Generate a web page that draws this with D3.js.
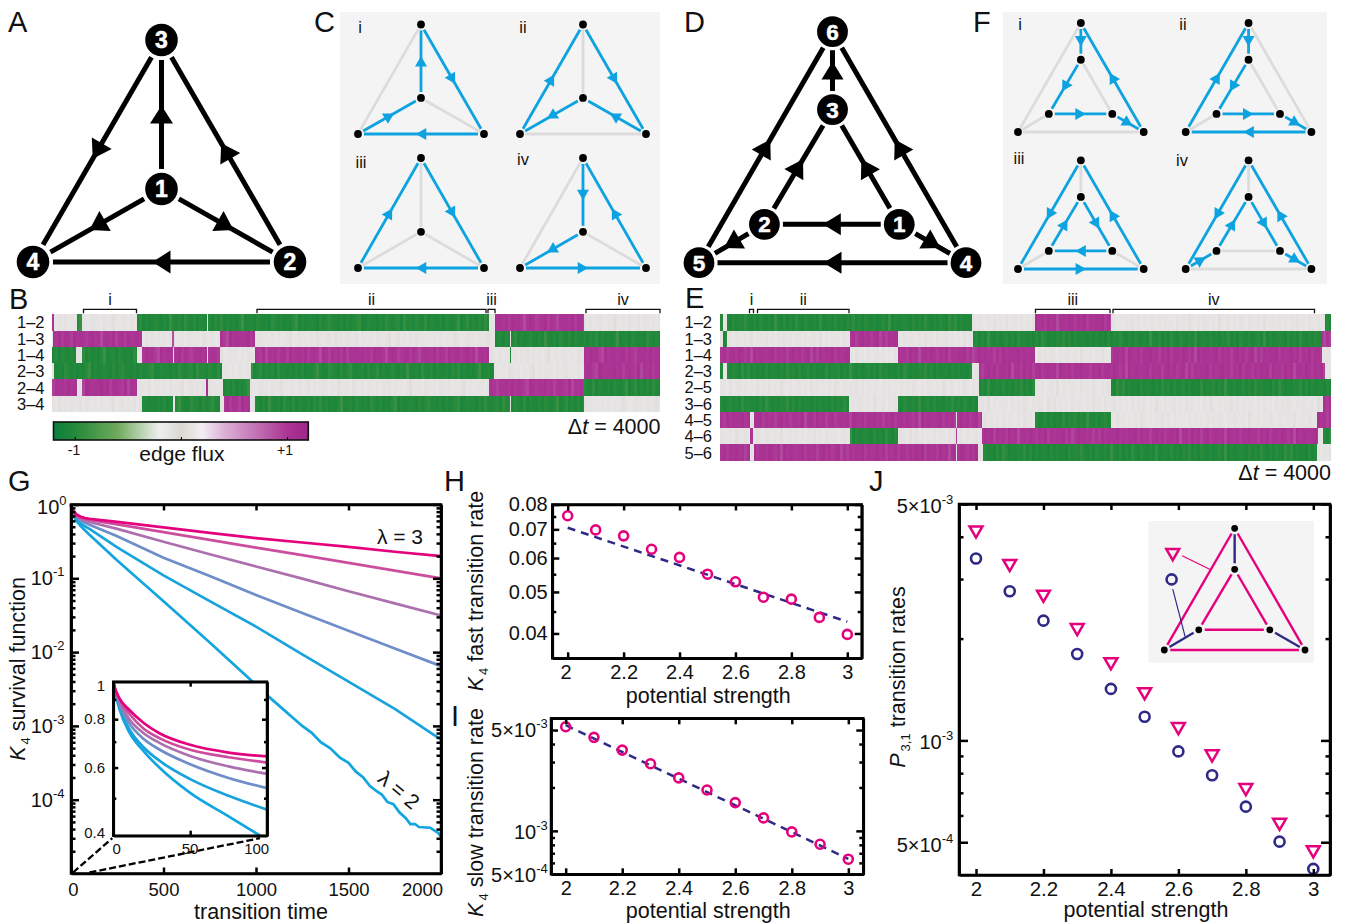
<!DOCTYPE html>
<html>
<head>
<meta charset="utf-8">
<script src="https://cdn.jsdelivr.net/npm/d3@7"></script>
<style>
  html, body { margin: 0; padding: 0; background: #fff; }
  svg { display: block; font-family: "Liberation Sans", Arial, sans-serif; fill: #111; }
</style>
</head>
<body>
<svg width="1346" height="923"></svg>
<script>
const pink = "#e5007d";
const navy = "#2e2a86";
const sky = "#0ea3e0";

// network layouts, in unit triangle coordinates
const k4Layout = { 1: [0.5, 0.671], 2: [1, 1], 3: [0.5, 0], 4: [0, 1] };
const prismLayout = { 1: [0.75, 0.834], 2: [0.245, 0.834], 3: [0.5, 0.337], 4: [1, 1], 5: [0, 1], 6: [0.5, 0] };

const k4Edges = [[1, 3], [3, 4], [2, 3], [1, 2], [1, 4], [2, 4]];
const prismEdges = [[3, 6], [5, 6], [4, 6], [2, 3], [1, 3], [1, 2], [2, 5], [1, 4], [4, 5]];

const cycleLabels = ["i", "ii", "iii", "iv"];
const k4Cycles = [
  { on: [[1, 3], [3, 2], [2, 4], [4, 1]], off: [[3, 4], [1, 2]] },
  { on: [[4, 3], [3, 2], [2, 1], [1, 4]], off: [[1, 3], [2, 4]] },
  { on: [[4, 3], [3, 2], [2, 4]], off: [[1, 3], [1, 2], [1, 4]] },
  { on: [[3, 1], [1, 4], [4, 2], [2, 3]], off: [[3, 4], [1, 2]] }
];
const prismCycles = [
  { on: [[6, 3], [3, 2], [2, 1], [1, 4], [4, 6]], off: [[5, 6], [1, 3], [2, 5], [4, 5]] },
  { on: [[5, 6], [6, 3], [3, 2], [2, 1], [1, 4], [4, 5]], off: [[4, 6], [1, 3], [2, 5]] },
  { on: [[6, 5], [5, 4], [4, 6], [2, 3], [3, 1], [1, 2]], off: [[3, 6], [2, 5], [1, 4]] },
  { on: [[6, 5], [5, 2], [2, 3], [3, 1], [1, 4], [4, 6]], off: [[3, 6], [1, 2], [4, 5]] }
];

// edge flux states: [start window, state], state lasts until the next start
const rowsB = ["1\u20132", "1\u20133", "1\u20134", "2\u20133", "2\u20134", "3\u20134"];
const fluxB = [
  [[0, 1], [1.7, 0], [24.7, -1], [30.3, 0], [85.3, -1], [154.7, 0], [156, -1], [437, 0], [442.5, 1], [532.3, 0]],
  [[0, 0], [1, 1], [89.7, 0], [120, 1], [122, 0], [168, 1], [202.7, 0], [442.5, -1], [457.5, 0], [459, -1]],
  [[0, -1], [24, 0], [30.3, -1], [85.3, 0], [90, 1], [121, 0], [122, 1], [155, 0], [156, 1], [168, 0], [203, 1], [436.5, 0], [457.5, -1], [459, 0], [532.3, 1]],
  [[0, 0], [1.5, -1], [170, 0], [198.5, -1], [442, 0], [532.3, 1]],
  [[0, 1], [24.5, 0], [30.3, 1], [85.3, 0], [154, 1], [155.5, 0], [170.5, -1], [198, 0], [437, 1], [532.3, -1]],
  [[0, 0], [90, -1], [120.5, 0], [122.5, -1], [168, 0], [171.5, 1], [198, 0], [203, -1], [457.5, 0], [459, -1], [532.3, 0]]
];
const bracketsB = [["i", 31.5, 84.5], ["ii", 205, 434], ["iii", 436, 443], ["iv", 534, 608]];

const rowsE = ["1\u20132", "1\u20133", "1\u20134", "2\u20133", "2\u20135", "3\u20136", "4\u20135", "4\u20136", "5\u20136"];
const fluxE = [
  [[0, -1], [2.5, 0], [7, -1], [252, 0], [315, 1], [391, 0], [605, -1]],
  [[0, 0], [3, -1], [6.5, 0], [129.5, 1], [177.5, 0], [253, -1], [602, 1]],
  [[0, 1], [129.5, 0], [177.5, 1], [314.5, 0], [391, 1], [602, 0]],
  [[0, -1], [2.5, 0], [7, -1], [252, 0], [259, 1], [604.5, 0]],
  [[0, 0], [259, -1], [314.5, 0], [391, -1]],
  [[0, -1], [129, 0], [177.5, -1], [258, 0], [602.5, 1]],
  [[0, 1], [29.5, 0], [34, 1], [235.5, 0], [237, 1], [262, 0], [314.5, -1], [390.5, 0], [597, 1]],
  [[0, 0], [30, 1], [33, 0], [129.5, -1], [177.5, 0], [235.5, 1], [237, 0], [262, 1], [598, 0], [602.5, -1]],
  [[0, 1], [29.5, 0], [34, 1], [235.5, 0], [237, 1], [258, 0], [262.5, -1], [597, 0]]
];
const bracketsE = [["i", 29.5, 33.5], ["ii", 37.5, 129], ["iii", 315.5, 390], ["iv", 393, 594.5]];

// streak strength per window, one digit each (0 faint .. 9 strong)
const streakB = "7868597862798467958637876958749687579682786947859678695748687961876957879468697852968767958647786968753986779684786593768578496786957862974868594778";
const streakE = "6879586747968578692785968479578683976858796748695786975829687679586847968579374868795867968476958758697948675968278697586947687958369786748596877968";

const fluxStops = [-1.2, -1, -0.6, -0.3, -0.2, 0, 0.2, 0.4, 1, 1.2];
const fluxColors = ["#0b7f3e", "#24893a", "#6fa95c", "#cfdfcb", "#eef0ee", "#dad7d1", "#f2eef4", "#dcb3d8", "#ab3594", "#a0248a"];

// G: survival function. First 100 time units come from the inset
const shortT = [0, 1, 4, 10, 20, 30, 50, 75, 100];
const shortS = [
  [1, 0.965, 0.906, 0.849, 0.781, 0.736, 0.687, 0.656, 0.641],
  [1, 0.96, 0.9, 0.83, 0.755, 0.715, 0.667, 0.638, 0.618],
  [1, 0.96, 0.89, 0.805, 0.735, 0.695, 0.643, 0.604, 0.578],
  [1, 0.955, 0.875, 0.785, 0.71, 0.668, 0.612, 0.564, 0.531],
  [1, 0.95, 0.86, 0.76, 0.675, 0.625, 0.56, 0.507, 0.467],
  [1, 0.945, 0.85, 0.745, 0.66, 0.6, 0.516, 0.449, 0.39]
];
const longT = [250, 500, 750, 1000, 1250, 1500, 1750, 2000];
const longLog = [
  [-0.235, -0.31, -0.385, -0.455, -0.515, -0.575, -0.64, -0.7],
  [-0.27, -0.375, -0.48, -0.585, -0.685, -0.79, -0.895, -1],
  [-0.33, -0.505, -0.675, -0.84, -1.005, -1.175, -1.34, -1.505],
  [-0.43, -0.72, -0.97, -1.225, -1.47, -1.71, -1.95, -2.19],
  [-0.58, -0.96, -1.31, -1.655, -2.03, -2.4, -2.77, -3.185]
];
const fastT = [250, 500, 750, 960, 1067, 1250, 1300, 1350, 1400, 1454, 1500, 1540, 1580, 1616, 1650, 1680, 1710, 1743, 1775, 1810, 1834, 1860, 1880, 1942, 1965, 1985, 2000];
const fastLog = [-0.76, -1.31, -1.87, -2.35, -2.6, -3, -3.09, -3.22, -3.3, -3.43, -3.5, -3.62, -3.7, -3.815, -3.88, -3.93, -4.03, -4.06, -4.17, -4.25, -4.33, -4.33, -4.37, -4.38, -4.42, -4.45, -4.5];
const curveColors = [pink, "#cc4d9e", "#ad70ae", "#6f8ec9", "#18a3dc", "#12a5e0"];

const strength = [2, 2.1, 2.2, 2.3, 2.4, 2.5, 2.6, 2.7, 2.8, 2.9, 3];
const strengthTicks = [2, 2.2, 2.4, 2.6, 2.8, 3];
const fastRate = [0.0753, 0.0698, 0.0676, 0.0629, 0.0602, 0.055, 0.0528, 0.0486, 0.0481, 0.0436, 0.0398];
const fastFit = [0.0706, 0.0426];
const slowRate = [5.27e-3, 4.45e-3, 3.63e-3, 2.92e-3, 2.33e-3, 1.92e-3, 1.57e-3, 1.23e-3, 0.984e-3, 0.808e-3, 0.636e-3];
const slowFit = [5.4e-3, 0.64e-3];
const circleRate = [3.45e-3, 2.76e-3, 2.26e-3, 1.8e-3, 1.42e-3, 1.175e-3, 0.928e-3, 0.789e-3, 0.637e-3, 0.502e-3, 0.417e-3];
const triangleRate = [4.12e-3, 3.28e-3, 2.66e-3, 2.12e-3, 1.68e-3, 1.37e-3, 1.08e-3, 0.897e-3, 0.713e-3, 0.563e-3, 0.467e-3];

const svg = d3.select("svg");

const letters = [["A", 8, 32], ["B", 9, 309], ["C", 314, 32], ["D", 684, 32], ["E", 685, 308], ["F", 973, 32], ["G", 8, 491], ["H", 444, 491], ["I", 451, 726], ["J", 869, 491]];
svg.selectAll(".letter").data(letters).enter().append("text")
  .attr("class", "letter")
  .attr("x", d => d[1])
  .attr("y", d => d[2])
  .attr("font-size", 29)
  .text(d => d[0]);

function arrowPoints(a, b, len, wid, frac) {
  const dx = b[0] - a[0], dy = b[1] - a[1], n = Math.hypot(dx, dy);
  const ux = dx / n, uy = dy / n;
  const mx = a[0] + dx * frac, my = a[1] + dy * frac;
  return [
    [mx + ux * len / 2, my + uy * len / 2],
    [mx - ux * len / 2 - uy * wid / 2, my - uy * len / 2 + ux * wid / 2],
    [mx - ux * len / 2 + uy * wid / 2, my - uy * len / 2 - ux * wid / 2]
  ].join(" ");
}

// one graph: x and y scales map the unit layout onto the page
function drawGraph(layout, x, y, o) {
  const g = svg.append("g");
  const pos = id => [x(layout[id][0]), y(layout[id][1])];
  const trim = (e, gap) => {
    const a = pos(e[0]), b = pos(e[1]), n = Math.hypot(b[0] - a[0], b[1] - a[1]);
    const ux = (b[0] - a[0]) / n, uy = (b[1] - a[1]) / n;
    return [a[0] + ux * gap, a[1] + uy * gap, b[0] - ux * gap, b[1] - uy * gap];
  };
  const segs = (list, color, width, gap) => {
    g.selectAll(null).data(list).enter().append("line")
      .attr("x1", d => trim(d, gap)[0]).attr("y1", d => trim(d, gap)[1])
      .attr("x2", d => trim(d, gap)[2]).attr("y2", d => trim(d, gap)[3])
      .attr("stroke", color).attr("stroke-width", width);
  };
  if (o.off) segs(o.off, "#dcdcdc", o.width, o.offGap);
  segs(o.on, o.color, o.width, o.gap);
  if (o.navy) segs(o.navy, navy, o.width, o.gap);
  if (o.arrow) {
    g.selectAll(null).data(o.on).enter().append("polygon")
      .attr("points", d => arrowPoints(pos(d[0]), pos(d[1]), o.arrow[0], o.arrow[1], 0.5))
      .attr("fill", o.color);
  }
  const ids = Object.keys(layout);
  g.selectAll(null).data(ids).enter().append("circle")
    .attr("cx", d => pos(d)[0]).attr("cy", d => pos(d)[1])
    .attr("r", o.r).attr("fill", "#000");
  if (o.numbers) {
    g.selectAll(null).data(ids).enter().append("text")
      .attr("x", d => pos(d)[0]).attr("y", d => pos(d)[1])
      .attr("dy", "0.36em")
      .attr("text-anchor", "middle")
      .attr("font-weight", "bold")
      .attr("font-size", o.numbers)
      .style("fill", "#fff")
      .style("stroke", "#fff")
      .style("stroke-width", 0.5)
      .text(d => d);
  }
}

const sc = (a, b) => d3.scaleLinear().domain([0, 1]).range([a, b]);

// A and D
drawGraph(k4Layout, sc(33, 290), sc(40, 262), { on: k4Edges, color: "#000", width: 5, gap: 20, arrow: [18, 23], r: 16.3, numbers: 23 });
drawGraph(prismLayout, sc(699, 966), sc(31.7, 262.7), { on: prismEdges, color: "#000", width: 5, gap: 18.5, arrow: [18, 22], r: 15.4, numbers: 22.5 });

// C and F
function cyclePanel(box, layout, cycles, cells, labels) {
  svg.append("rect").attr("x", box[0]).attr("y", box[1]).attr("width", box[2]).attr("height", box[3]).attr("fill", "#f4f4f4");
  cycles.forEach((c, i) => {
    const m = cells[i];
    drawGraph(layout, sc(m[0], m[1]), sc(m[2], m[3]), { on: c.on, off: c.off, color: sky, width: 2.8, gap: 6, offGap: 5, arrow: [10.5, 12], r: 3.9 });
    svg.append("text").attr("x", labels[i][0]).attr("y", labels[i][1])
      .attr("text-anchor", "middle").attr("font-size", 16.5).text(cycleLabels[i]);
  });
}
cyclePanel([340, 12, 320, 272], k4Layout, k4Cycles,
  [[358, 484, 24.5, 134], [520, 646, 24.5, 134], [358, 484, 158, 268], [520, 646, 158, 268]],
  [[360, 33], [523, 33], [361, 168], [523, 165]]);
cyclePanel([1003, 12, 324, 272], prismLayout, prismCycles,
  [[1018, 1143.7, 23, 132], [1185.7, 1311.4, 23, 132], [1018, 1143.7, 160.3, 269], [1185.7, 1311.4, 160.3, 269]],
  [[1020, 30], [1183, 30], [1019, 164], [1182, 166]]);

// flux heatmaps
const fluxColor = d3.scaleLinear().domain(fluxStops).range(fluxColors);
const streakWidth = 3;

function heatmap(rows, flux, brackets, streak, x0, x1, windows, top, bottom, labelX, labelSize) {
  const x = d3.scaleLinear().domain([0, windows]).range([x0, x1]);
  const y = d3.scaleBand().domain(rows).range([top, bottom]);
  const g = svg.append("g");
  flux.forEach((segs, r) => {
    const cells = [];
    segs.forEach((s, i) => {
      const end = i + 1 < segs.length ? segs[i + 1][0] : windows;
      let a = s[0];
      while (a < end) {
        const col = Math.floor(a / streakWidth);
        const b = Math.min(end, (col + 1) * streakWidth);
        const shade = +streak[(col + r * 23) % streak.length] / 9;
        const v = s[1] === 0 ? 0.045 + 0.075 * shade : s[1] * (0.86 + 0.2 * shade);
        cells.push({ a, b, v });
        a = b;
      }
    });
    g.selectAll(null).data(cells).enter().append("rect")
      .attr("x", d => x(d.a))
      .attr("width", d => x(d.b) - x(d.a))
      .attr("y", y(rows[r]))
      .attr("height", y.bandwidth())
      .attr("shape-rendering", "crispEdges")
      .attr("fill", d => fluxColor(d.v));
    svg.append("text")
      .attr("x", labelX).attr("y", y(rows[r]) + y.bandwidth() / 2)
      .attr("dy", "0.36em").attr("text-anchor", "end")
      .attr("font-size", labelSize).text(rows[r]);
  });
  brackets.forEach(b => {
    svg.append("path")
      .attr("d", `M${x(b[1])},${top - 1}V${top - 5}H${x(b[2])}V${top - 1}`)
      .attr("fill", "none").attr("stroke", "#111").attr("stroke-width", 1.3);
    svg.append("text")
      .attr("x", (x(b[1]) + x(b[2])) / 2).attr("y", top - 9)
      .attr("text-anchor", "middle").attr("font-size", 16).text(b[0]);
  });
}
heatmap(rowsB, fluxB, bracketsB, streakB, 52, 660, 608, 314.3, 412, 44.5, 16.5);
heatmap(rowsE, fluxE, bracketsE, streakE, 720, 1331, 611, 314.3, 460.7, 712, 16.5);

function deltaT(xEnd, y) {
  const t = svg.append("text").attr("x", xEnd).attr("y", y).attr("text-anchor", "end").attr("font-size", 21.5);
  t.append("tspan").text("\u0394");
  t.append("tspan").attr("font-style", "italic").text("t");
  t.append("tspan").text(" = 4000");
}
deltaT(660.5, 434);
deltaT(1331, 480);

// colour bar
const barX = d3.scaleLinear().domain([-1.2, 1.2]).range([53.5, 308.3]);
const grad = svg.append("defs").append("linearGradient").attr("id", "fluxBar");
grad.selectAll("stop").data(fluxStops).enter().append("stop")
  .attr("offset", d => (d + 1.2) / 2.4)
  .attr("stop-color", d => fluxColor(d));
svg.append("rect").attr("x", 53.5).attr("y", 422).attr("width", 254.8).attr("height", 18)
  .attr("fill", "url(#fluxBar)").attr("stroke", "#111").attr("stroke-width", 1.6);
svg.append("g").attr("transform", "translate(0,440)")
  .call(d3.axisBottom(barX).tickValues([-1, 0, 1]).tickSize(-3).tickFormat("").tickSizeOuter(0))
  .call(g => g.select(".domain").remove());
svg.selectAll(".barLabel").data([[-1, "-1", 74], [1, "+1", 285]]).enter().append("text")
  .attr("class", "barLabel")
  .attr("x", d => d[2]).attr("y", 455)
  .attr("text-anchor", "middle").attr("font-size", 14)
  .text(d => d[1]);
svg.append("text").attr("x", barX(0) + 1).attr("y", 461).attr("text-anchor", "middle").attr("font-size", 21).text("edge flux");

// frames with ticks pointing inside on all four sides
function frame(x, y, o) {
  const [xa, xb] = x.range();
  const [yb, ya] = y.range();
  const g = svg.append("g");
  const style = sel => sel.attr("font-family", null).attr("font-size", o.fontSize).attr("stroke-width", o.sw || 2.5)
    .call(s => s.selectAll(".tick text").attr("stroke", "none").style("fill", "#111"))
    .call(s => s.selectAll(".tick line, .domain").attr("stroke", "#000"));
  const len = o.len, minor = o.minorLen;
  g.append("g").attr("transform", `translate(0,${yb})`)
    .call(d3.axisBottom(x).tickValues(o.xTicks).tickSize(-(o.xLen || len)).tickSizeOuter(0).tickPadding(o.xPad).tickFormat(o.xFormat)).call(style);
  g.append("g").attr("transform", `translate(0,${ya})`)
    .call(d3.axisTop(x).tickValues(o.xTicks).tickSize(-(o.xLen || len)).tickSizeOuter(0).tickFormat("")).call(style);
  g.append("g").attr("transform", `translate(${xa},0)`)
    .call(d3.axisLeft(y).tickValues(o.yTicks).tickSize(-len).tickSizeOuter(0).tickPadding(o.yPad || 5).tickFormat(o.yFormat || "")).call(style);
  g.append("g").attr("transform", `translate(${xb},0)`)
    .call(d3.axisRight(y).tickValues(o.yTicks).tickSize(-len).tickSizeOuter(0).tickFormat("")).call(style);
  g.append("g").attr("transform", `translate(${xa},0)`)
    .call(d3.axisLeft(y).tickValues(o.yMinor).tickSize(-minor).tickSizeOuter(0).tickFormat("")).call(style);
  g.append("g").attr("transform", `translate(${xb},0)`)
    .call(d3.axisRight(y).tickValues(o.yMinor).tickSize(-minor).tickSizeOuter(0).tickFormat("")).call(style);
  g.append("rect").attr("x", xa).attr("y", ya).attr("width", xb - xa).attr("height", yb - ya)
    .attr("fill", "none").attr("stroke", "#000").attr("stroke-width", o.sw || 2.5);
  return g;
}

function powerLabel(xEnd, y, base, sup, size) {
  const t = svg.append("text").attr("x", xEnd).attr("y", y).attr("text-anchor", "end").attr("font-size", size);
  t.append("tspan").text(base);
  t.append("tspan").attr("dy", -9).attr("font-size", 13).text(sup);
}

function yTitle(cx, cy, main, sub, rest) {
  const t = svg.append("text").attr("transform", `translate(${cx},${cy}) rotate(-90)`)
    .attr("text-anchor", "middle").attr("font-size", 21.5);
  t.append("tspan").attr("font-style", "italic").text(main);
  t.append("tspan").attr("font-size", 13).attr("dy", 5).attr("dx", 2).text(sub);
  t.append("tspan").attr("dy", -5).attr("dx", 6).text(rest);
}

function xTitle(cx, y, txt) {
  svg.append("text").attr("x", cx).attr("y", y).attr("text-anchor", "middle").attr("font-size", 21.5).text(txt);
}

const decadeMinor = (lo, hi) => d3.range(lo, hi).flatMap(e => d3.range(2, 10).map(k => k * Math.pow(10, e)));

// G
const gx = d3.scaleLinear().domain([0, 2000]).range([71, 441]);
const gy = d3.scaleLog().domain([1e-5, 1]).range([873.5, 504.5]);
const line = (x, y) => d3.line().x(d => x(d[0])).y(d => y(d[1]));

const series = shortS.map((s, i) => {
  const head = shortT.map((t, j) => [t, s[j]]);
  const tailT = i < 5 ? longT : fastT;
  const tailL = i < 5 ? longLog[i] : fastLog;
  return head.concat(tailT.map((t, j) => [t, Math.pow(10, tailL[j])]));
});

series.slice().reverse().forEach((d, i) => {
  svg.append("path").datum(d)
    .attr("d", line(gx, gy))
    .attr("fill", "none")
    .attr("stroke", curveColors[5 - i])
    .attr("stroke-width", 2.7);
});

frame(gx, gy, {
  xTicks: [0, 500, 1000, 1500, 2000], yTicks: [1, 1e-1, 1e-2, 1e-3, 1e-4], yMinor: decadeMinor(-5, 0),
  len: 8, minorLen: 4.5, xLen: 6, xPad: 9.5, fontSize: 18.5, xFormat: d3.format("d")
}).call(g => g.selectAll("text").filter(function () { return this.textContent === "2000"; }).attr("x", -19))
  .call(g => g.selectAll("text").filter(function () { return this.textContent === "0"; }).attr("x", 2));

powerLabel(66.5, gy(1) + 9.8, "10", "0", 20);
[[1e-1, "-1"], [1e-2, "-2"], [1e-3, "-3"], [1e-4, "-4"]].forEach(d => powerLabel(64.5, gy(d[0]) + 6.8, "10", d[1], 20));
yTitle(25, 669, "K", "4", "survival function");
xTitle(261, 918.5, "transition time");
svg.append("text").attr("x", 400).attr("y", 543.5).attr("text-anchor", "middle").attr("font-size", 21).text("\u03bb = 3");
svg.append("text").attr("transform", "translate(399,790) rotate(40)").attr("dy", "0.35em").attr("text-anchor", "middle").attr("font-size", 21).text("\u03bb = 2");

// G inset
const ix = d3.scaleLinear().domain([0, 100]).range([113.3, 267]);
const iy = d3.scaleLog().domain([0.4, 1]).range([835.7, 681.7]);

// dashed guides from the first 100 time units of the main axis
[[0, 0], [100, 100]].forEach(d => {
  svg.append("line")
    .attr("x1", gx(d[0]) + (d[0] ? 0 : 2)).attr("y1", gy(1e-5) - 1)
    .attr("x2", ix(d[1]) - (d[1] ? 7 : 1)).attr("y2", iy(0.4) + 2.5)
    .attr("stroke", "#000").attr("stroke-width", 2.3).attr("stroke-dasharray", "7,3");
});

svg.append("rect").attr("x", 113.3).attr("y", 681.7).attr("width", 153.7).attr("height", 154).attr("fill", "#fff");
svg.append("clipPath").attr("id", "insetClip").append("rect")
  .attr("x", 113.3).attr("y", 681.7).attr("width", 153.7).attr("height", 154);

shortS.slice().reverse().forEach((s, i) => {
  svg.append("path").datum(shortT.map((t, j) => [t, s[j]]))
    .attr("clip-path", "url(#insetClip)")
    .attr("d", line(ix, iy).curve(d3.curveMonotoneX))
    .attr("fill", "none")
    .attr("stroke", curveColors[5 - i])
    .attr("stroke-width", 2.7);
});

frame(ix, iy, {
  xTicks: [50], yTicks: [0.8, 0.6], yMinor: [0.9, 0.7, 0.5],
  len: 5, minorLen: 3, xPad: 5, fontSize: 14.5, xFormat: ""
});
[[1, "1", 691], [0.8, "0.8", 724.3], [0.6, "0.6", 772.7], [0.4, "0.4", 837.7]].forEach(d => {
  svg.append("text").attr("x", 105).attr("y", d[2]).attr("text-anchor", "end").attr("font-size", 15).text(d[1]);
});
[["0", 116.7], ["50", 190], ["100", 256.7]].forEach(d => {
  svg.append("text").attr("x", d[1]).attr("y", 853.5).attr("text-anchor", "middle").attr("font-size", 15).text(d[0]);
});

// H
function ratePanel(x, y, rate, fit, r) {
  svg.append("line")
    .attr("x1", x(2)).attr("y1", y(fit[0]))
    .attr("x2", x(3)).attr("y2", y(fit[1]))
    .attr("stroke", navy).attr("stroke-width", 2.5).attr("stroke-dasharray", "8,6");
  svg.selectAll(null).data(rate).enter().append("circle")
    .attr("cx", (d, i) => x(strength[i]))
    .attr("cy", d => y(d))
    .attr("r", r)
    .attr("fill", "none")
    .attr("stroke", pink)
    .attr("stroke-width", 2.6);
}

const hx = d3.scaleLinear().domain([1.945, 3.0515]).range([552.3, 861.7]);
const hy = d3.scaleLog().domain([0.035, 0.08]).range([658.3, 504.5]);
ratePanel(hx, hy, fastRate, fastFit, 4.5);
frame(hx, hy, {
  xTicks: strengthTicks, yTicks: [0.08, 0.07, 0.06, 0.05, 0.04], yMinor: [0.075, 0.065, 0.055, 0.045],
  len: 7, minorLen: 4, xLen: 6, xPad: 7, yPad: 4.6, fontSize: 20, xFormat: d3.format("~g"), yFormat: d3.format(".2f")
}).call(g => g.selectAll("text").filter(function () { return this.textContent === "2"; }).attr("x", -2));
yTitle(483.3, 591, "K", "4", "fast transition rate");
xTitle(708.3, 702.7, "potential strength");

// I
const ax = d3.scaleLinear().domain([1.948, 3.053]).range([551, 863.3]);
const ay = d3.scaleLog().domain([5e-4, 6.03e-3]).range([874.3, 718.3]);
ratePanel(ax, ay, slowRate, slowFit, 4.5);
frame(ax, ay, {
  xTicks: strengthTicks, yTicks: [5e-3, 1e-3], yMinor: [4e-3, 3e-3, 2e-3, 9e-4, 8e-4, 7e-4, 6e-4],
  len: 7, minorLen: 4, xLen: 6, xPad: 6.5, fontSize: 20, xFormat: d3.format("~g")
});
powerLabel(547.7, ay(5e-3) + 7, "5\u00d710", "-3", 20);
powerLabel(547.7, ay(1e-3) + 8, "10", "-3", 20);
powerLabel(547.7, ay(5e-4) + 8, "5\u00d710", "-4", 20);
yTitle(483.3, 812.5, "K", "4", "slow transition rate");
xTitle(708.3, 917.7, "potential strength");

// J
const jx = d3.scaleLinear().domain([1.9496, 3.0495]).range([959, 1330]);
const jy = d3.scaleLog().domain([4e-4, 5e-3]).range([875, 504]);
const tri = d3.symbol().type(d3.symbolTriangle).size(72);

function triangleMark(x, y) {
  svg.append("path").attr("d", tri())
    .attr("transform", `translate(${x},${y - 2.3}) rotate(180)`)
    .attr("fill", "none").attr("stroke", pink).attr("stroke-width", 2.5);
}
function circleMark(x, y) {
  svg.append("circle").attr("cx", x).attr("cy", y).attr("r", 5)
    .attr("fill", "none").attr("stroke", navy).attr("stroke-width", 2.6);
}

triangleRate.forEach((d, i) => triangleMark(jx(strength[i]), jy(d)));
circleRate.forEach((d, i) => circleMark(jx(strength[i]), jy(d)));

frame(jx, jy, {
  xTicks: strengthTicks, yTicks: [5e-3, 1e-3, 5e-4], yMinor: [4e-3, 3e-3, 2e-3, 9e-4, 8e-4, 7e-4, 6e-4],
  len: 9, minorLen: 4.5, xLen: 6, xPad: 6, fontSize: 20.5, xFormat: d3.format("~g")
});
powerLabel(953.3, jy(5e-3) + 9.3, "5\u00d710", "-3", 20);
powerLabel(953.3, jy(1e-3) + 9, "10", "-3", 20);
powerLabel(953.3, jy(5e-4) + 9.4, "5\u00d710", "-4", 20);
yTitle(905, 677, "P", "3,1", "transition rates");
xTitle(1146, 916.7, "potential strength");

// J inset with its key
svg.append("rect").attr("x", 1148.3).attr("y", 521).attr("width", 165.7).attr("height", 141.7).attr("fill", "#f4f4f4");
const kx = sc(1164.3, 1305), ky = sc(528.3, 650);
drawGraph(prismLayout, kx, ky, {
  on: [[5, 6], [4, 6], [4, 5], [2, 3], [1, 3], [1, 2]],
  navy: [[3, 6], [2, 5], [1, 4]],
  color: pink, width: 2.4, gap: 6, r: 3.4
});
const keyTriangle = [0.06, 0.22], keyCircle = [0.052, 0.42];
const keyLeaders = [[[0.127, 0.225], [0.326, 0.338], pink], [[0.06, 0.5], [0.148, 0.89], navy]];
keyLeaders.forEach(d => {
  svg.append("line")
    .attr("x1", kx(d[0][0])).attr("y1", ky(d[0][1]))
    .attr("x2", kx(d[1][0])).attr("y2", ky(d[1][1]))
    .attr("stroke", d[2]).attr("stroke-width", 1.2);
});
triangleMark(kx(keyTriangle[0]), ky(keyTriangle[1]));
circleMark(kx(keyCircle[0]), ky(keyCircle[1]));
</script>
</body>
</html>
